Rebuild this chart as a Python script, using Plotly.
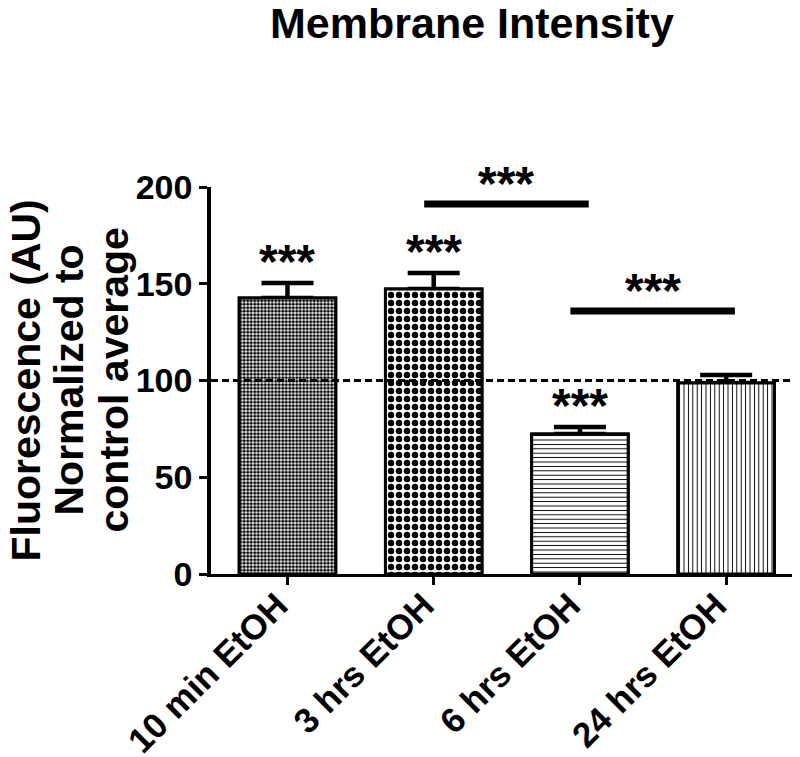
import plotly.graph_objects as go

# data
groups = ["10 min EtOH", "3 hrs EtOH", "6 hrs EtOH", "24 hrs EtOH"]
means = [142.6, 147.3, 72.4, 98.7]
sems = [7.8, 8.3, 3.6, 4.1]
bar_stars = ["***", "***", "***", ""]
control_level = 100

# pairwise comparisons: (group a, group b, line height, label)
pairs = [("3 hrs EtOH", "6 hrs EtOH", 191.2, "***"),
         ("6 hrs EtOH", "24 hrs EtOH", 135.9, "***")]

ytitle_lines = ["Fluorescence (AU)", "Normalized to", "control average"]

# fill patterns, one per bar
pat_shape = [".", ".", "-", "|"]
pat_size = [3.5, 8, 4.4, 4.4]
pat_solid = [0.62, 0.5, 0.22, 0.22]

FONT = "Liberation Sans, Arial, sans-serif"

fig = go.Figure()

bar_marker = dict(color="white",
                  line=dict(color="black", width=3),
                  pattern=dict(shape=pat_shape, size=pat_size, solidity=pat_solid,
                               fgcolor="black", bgcolor="white", fillmode="replace"))

# bars with error bars (upper only)
fig.add_trace(go.Bar(
    x=groups, y=means, width=0.66, marker=bar_marker,
    error_y=dict(type="data", symmetric=False, array=sems, arrayminus=[0] * len(sems),
                 color="black", thickness=4.5, width=26),
    showlegend=False,
))
# same bars drawn again on top to hide the lower caps at the bar tops
fig.add_trace(go.Bar(x=groups, y=means, width=0.66, marker=bar_marker, showlegend=False))

star_font = dict(family=FONT, size=48, color="black", weight="bold")

# stars above bars
for g, m, s, st in zip(groups, means, sems, bar_stars):
    if st:
        fig.add_annotation(x=g, y=m + s, text=st, showarrow=False,
                           yanchor="bottom", yshift=-7, font=star_font)

# comparison lines
x_idx = {g: i for i, g in enumerate(groups)}
for a, b, h, lab in pairs:
    xa = x_idx[a] - 0.065
    xb = x_idx[b] + 0.06
    fig.add_shape(type="line", xref="x", yref="y", x0=xa, x1=xb, y0=h, y1=h,
                  line=dict(color="black", width=7))
    fig.add_annotation(x=(xa + xb) / 2, y=h, text=lab, showarrow=False,
                       yanchor="bottom", yshift=-8, font=star_font)

# control reference line
fig.add_shape(type="line", xref="paper", yref="y", x0=0, x1=1,
              y0=control_level, y1=control_level, layer="above",
              line=dict(color="black", width=3, dash="7px,4px"))

# y axis title, one annotation per line
for line, shift in zip(ytitle_lines, [-186, -143, -98]):
    fig.add_annotation(xref="paper", yref="paper", x=0, y=0.5, xanchor="center",
                       yanchor="middle", xshift=shift, textangle=-90, showarrow=False,
                       text=line,
                       font=dict(family=FONT, size=41, color="black", weight="bold"))

# chart title
fig.add_annotation(xref="paper", yref="paper", x=(464 - 203) / 589, y=1,
                   xanchor="center", yanchor="bottom", yshift=138, showarrow=False,
                   text="Membrane Intensity",
                   font=dict(family=FONT, size=43, color="black", weight="bold"))

fig.update_layout(
    width=800, height=757,
    margin=dict(l=203, r=8, t=179, b=191),
    plot_bgcolor="white", paper_bgcolor="white",
    barmode="overlay",
    xaxis=dict(type="category", range=[-0.523, 3.505], automargin=False,
               showline=True, linecolor="black", linewidth=3,
               ticks="outside", ticklen=8, tickwidth=3, tickcolor="black",
               tickangle=-45, showgrid=False, ticklabelstandoff=-14,
               ticklabelshift=-10,
               tickfont=dict(family=FONT, size=35, color="black", weight="bold")),
    yaxis=dict(range=[0, 200], tickvals=[0, 50, 100, 150, 200], automargin=False,
               showline=True, linecolor="black", linewidth=3.5,
               ticks="outside", ticklen=8, tickwidth=3, tickcolor="black",
               showgrid=False, zeroline=False,
               tickfont=dict(family=FONT, size=34, color="black", weight="bold")),
)

fig.write_html("out.html")
